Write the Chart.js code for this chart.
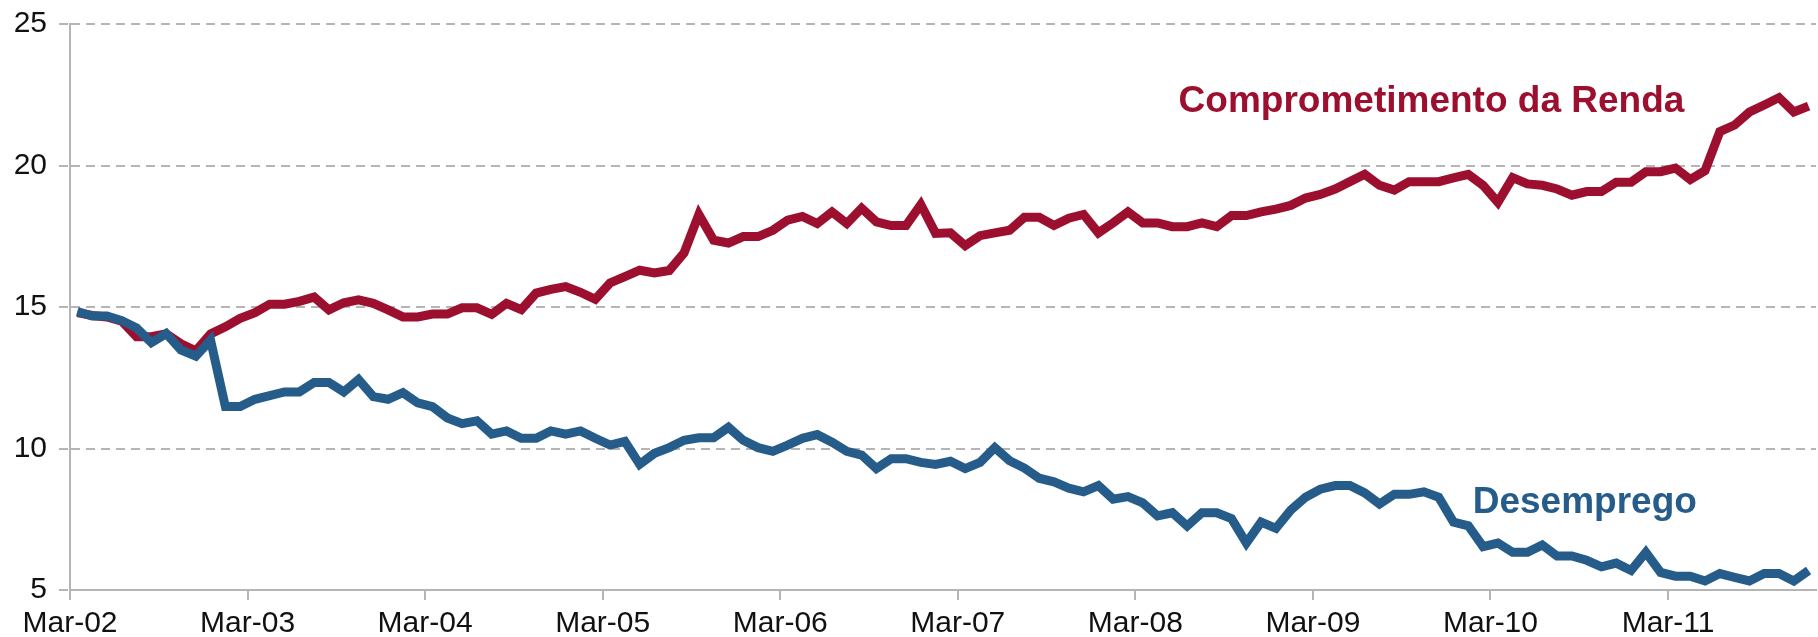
<!DOCTYPE html>
<html lang="pt-BR">
<head>
<meta charset="utf-8">
<title>Comprometimento da Renda x Desemprego</title>
<script src="https://cdn.jsdelivr.net/npm/chart.js@4.4.1/dist/chart.umd.min.js"></script>
<style>
  html, body { margin: 0; padding: 0; background: #fff; }
  #wrap { width: 1818px; height: 637px; position: relative; }
</style>
</head>
<body>
<div id="wrap"><canvas id="chart"></canvas></div>
<script>
// Monthly series, Mar-02 .. Dec-11 (118 months)
var TICK_LABELS = ['Mar-02', 'Mar-03', 'Mar-04', 'Mar-05', 'Mar-06', 'Mar-07', 'Mar-08', 'Mar-09', 'Mar-10', 'Mar-11'];
var TICK_STEP = 12;            // one labelled tick per year
var Y_TICKS = [5, 10, 15, 20, 25];

var comprometimento = [
  14.8, 14.7, 14.65, 14.5, 13.95, 13.95, 14.05, 13.7, 13.45, 14.05,
  14.3, 14.6, 14.8, 15.1, 15.1, 15.2, 15.35, 14.9, 15.15, 15.25,
  15.13, 14.9, 14.65, 14.65, 14.75, 14.75, 14.97, 14.97, 14.74, 15.13,
  14.91, 15.49, 15.62, 15.72, 15.52, 15.27, 15.85, 16.07, 16.3, 16.2,
  16.29, 16.91, 18.27, 17.36, 17.26, 17.49, 17.49, 17.71, 18.07, 18.2,
  17.95, 18.36, 17.95, 18.49, 18.01, 17.88, 17.88, 18.62, 17.6, 17.62,
  17.17, 17.52, 17.62, 17.71, 18.17, 18.17, 17.88, 18.14, 18.27, 17.62,
  17.97, 18.36, 17.97, 17.97, 17.84, 17.84, 17.97, 17.84, 18.23, 18.23,
  18.36, 18.46, 18.59, 18.85, 18.98, 19.17, 19.43, 19.69, 19.3, 19.13,
  19.43, 19.43, 19.43, 19.56, 19.69, 19.3, 18.7, 19.57, 19.35, 19.3,
  19.17, 18.95, 19.08, 19.08, 19.41, 19.41, 19.78, 19.78, 19.91, 19.5,
  19.82, 21.2, 21.43, 21.89, 22.14, 22.4, 21.89, 22.1
];

var desemprego = [
  14.84, 14.68, 14.68, 14.52, 14.26, 13.74, 14.06, 13.48, 13.26, 13.83,
  11.48, 11.48, 11.74, 11.87, 12.0, 12.0, 12.33, 12.33, 12.0, 12.44,
  11.83, 11.74, 11.97, 11.61, 11.48, 11.08, 10.88, 10.98, 10.51, 10.62,
  10.36, 10.36, 10.62, 10.51, 10.62, 10.36, 10.12, 10.25, 9.44, 9.83,
  10.03, 10.29, 10.38, 10.38, 10.75, 10.29, 10.03, 9.9, 10.12, 10.36,
  10.49, 10.22, 9.9, 9.77, 9.29, 9.64, 9.64, 9.51, 9.44, 9.55,
  9.29, 9.51, 10.03, 9.57, 9.31, 8.95, 8.82, 8.6, 8.47, 8.69,
  8.21, 8.3, 8.08, 7.62, 7.73, 7.26, 7.73, 7.73, 7.52, 6.66,
  7.4, 7.18, 7.82, 8.28, 8.56, 8.69, 8.69, 8.43, 8.04, 8.38,
  8.38, 8.47, 8.28, 7.4, 7.27, 6.53, 6.66, 6.33, 6.33, 6.59,
  6.2, 6.2, 6.05, 5.82, 5.95, 5.69, 6.33, 5.62, 5.49, 5.49,
  5.32, 5.58, 5.45, 5.32, 5.58, 5.58, 5.32, 5.69
];

// series name labels, anchored in data units (month index, value)
var SERIES_LABELS = [
  { text: 'Comprometimento da Renda', color: '#9c0f2f', x: 109.1, y: 21.9, align: 'right' },
  { text: 'Desemprego', color: '#255c8a', x: 94.8, y: 7.72, align: 'left' }
];

var RED = '#9c0f2f';
var BLUE = '#255c8a';
var GRID = '#b5b5b5';
var FONT = "'Liberation Sans', Arial, Helvetica, sans-serif";

// each month sits in the middle of its slot, ticks on the slot edges
function toPoints(arr) {
  return arr.map(function (v, i) { return { x: i + 0.5, y: v }; });
}

var seriesLabelPlugin = {
  id: 'seriesLabels',
  afterDatasetsDraw: function (chart) {
    var ctx = chart.ctx, xs = chart.scales.x, ys = chart.scales.y;
    ctx.save();
    ctx.font = 'bold 37px ' + FONT;
    ctx.textBaseline = 'alphabetic';
    SERIES_LABELS.forEach(function (l) {
      ctx.fillStyle = l.color;
      ctx.textAlign = l.align;
      ctx.fillText(l.text, xs.getPixelForValue(l.x), ys.getPixelForValue(l.y));
    });
    ctx.restore();
  }
};

new Chart(document.getElementById('chart'), {
  type: 'line',
  data: {
    datasets: [
      { label: 'Desemprego', data: toPoints(desemprego), borderColor: BLUE, borderWidth: 9,
        pointRadius: 0, tension: 0, fill: false },
      { label: 'Comprometimento da Renda', data: toPoints(comprometimento), borderColor: RED, borderWidth: 9,
        pointRadius: 0, tension: 0, fill: false }
    ]
  },
  options: {
    responsive: true, maintainAspectRatio: false, animation: false,
    layout: { padding: { top: 24, right: 2, bottom: 0, left: 0 } },
    plugins: { legend: { display: false }, tooltip: { enabled: false } },
    scales: {
      x: {
        type: 'linear', min: 0, max: comprometimento.length,
        afterBuildTicks: function (s) {
          s.ticks = TICK_LABELS.map(function (_, k) { return { value: k * TICK_STEP }; });
        },
        afterFit: function (s) { s.height = 47; s.paddingLeft = 0; s.paddingRight = 0; },
        ticks: {
          autoSkip: false, maxRotation: 0, padding: 6, color: '#111',
          font: { family: FONT, size: 30 },
          callback: function (v) { return TICK_LABELS[Math.round(v / TICK_STEP)]; }
        },
        grid: { drawOnChartArea: false, drawTicks: true, tickLength: 10, color: GRID, lineWidth: 2 },
        border: { display: true, color: GRID, width: 2 }
      },
      y: {
        min: Y_TICKS[0], max: Y_TICKS[Y_TICKS.length - 1],
        afterBuildTicks: function (s) {
          s.ticks = Y_TICKS.map(function (v) { return { value: v }; });
        },
        afterFit: function (s) { s.width = 70; s.paddingTop = 0; s.paddingBottom = 0; },
        ticks: { padding: 12, color: '#111', font: { family: FONT, size: 30 } },
        grid: { color: GRID, lineWidth: 2, tickBorderDash: [9, 6], tickLength: 11 },
        border: { display: true, color: GRID, width: 2, dash: [9, 6] }
      }
    }
  },
  plugins: [seriesLabelPlugin]
});
</script>
</body>
</html>
